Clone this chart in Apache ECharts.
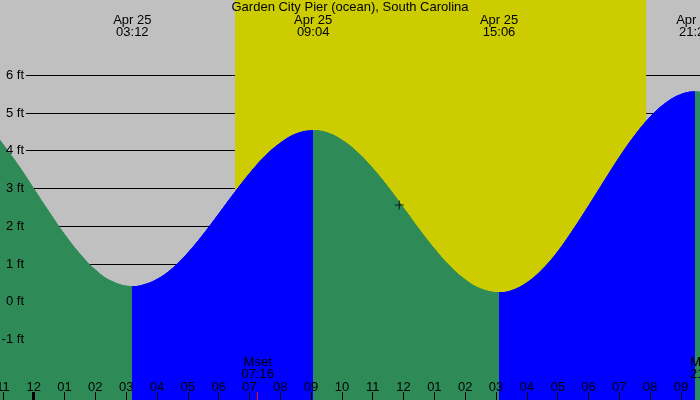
<!DOCTYPE html>
<html><head><meta charset="utf-8">
<script src="https://cdn.jsdelivr.net/npm/echarts@6/dist/echarts.min.js"></script>
<style>html,body{margin:0;padding:0;background:#c0c0c0}#c{width:700px;height:400px}</style>
</head><body><div id="c"></div><script>
// ---- data ----
const chartTitle = 'Garden City Pier (ocean), South Carolina';
const tideTimes   = [-1.1, -0.5, 0, 0.5, 1, 1.5, 2, 2.5, 3.2, 3.5, 4, 4.5, 5, 5.5, 6, 6.5, 7, 7.5, 8, 8.5, 9.067,
                     9.5, 10, 10.5, 11, 11.5, 12, 12.5, 13, 13.5, 14, 14.5, 15.1,
                     15.5, 16, 16.5, 17, 17.5, 18, 18.5, 19, 19.5, 20, 20.5, 21, 21.467, 21.62];
const tideHeights = [4.28, 3.61, 2.99, 2.37, 1.78, 1.26, 0.84, 0.55, 0.40, 0.43, 0.59, 0.88, 1.29, 1.78, 2.32, 2.87, 3.39, 3.85, 4.20, 4.44, 4.53,
                     4.48, 4.28, 3.96, 3.53, 3.03, 2.48, 1.92, 1.40, 0.94, 0.58, 0.34, 0.24,
                     0.29, 0.50, 0.85, 1.32, 1.90, 2.53, 3.18, 3.82, 4.40, 4.89, 5.26, 5.49, 5.56, 5.55];
const extremeTimes  = [3.2, 9.067, 15.1, 21.467];
const extremeTypes  = ['low', 'high', 'low', 'high'];
const extremeDate   = 'Apr 25';
const extremeLabels = ['03:12', '09:04', '15:06', '21:28'];
const hourTicks  = [-1, 0, 1, 2, 3, 4, 5, 6, 7, 8, 9, 10, 11, 12, 13, 14, 15, 16, 17, 18, 19, 20, 21];
const hourLabels = ['11', '12', '01', '02', '03', '04', '05', '06', '07', '08', '09', '10', '11', '12', '01', '02', '03', '04', '05', '06', '07', '08', '09'];
const midnightTicks = [0];
const levels = [-1, 0, 1, 2, 3, 4, 5, 6];
const sunrise = 6.53, sunset = 19.87;
const moonTimes  = [7.267, 21.82];
const moonNames  = ['Mset', 'Mrise'];
const moonLabels = ['07:16', '21:49'];
const markerTimes = [11.86];
const markerHeights = [2.56];

// ---- layout / style ----
const xMin = -1.0935, xMax = 21.619, yMin = -2.603, yMax = 7.993;
const GREEN = '#2e8b57', BLUE = '#0000ff', YELLOW = '#cccc00', GRAY = '#c0c0c0';
const FONT = '"Liberation Sans", Arial, sans-serif';
const FS = 13;

const pieces = [];
for (let i = 0; i <= extremeTimes.length; i++) {
  const p = {};
  if (i > 0) p.gte = extremeTimes[i - 1];
  if (i < extremeTimes.length) p.lt = extremeTimes[i];
  let rising;
  if (i < extremeTimes.length) rising = extremeTypes[i] === 'high';
  else rising = extremeTypes[i - 1] === 'low';
  p.color = rising ? BLUE : GREEN;
  pieces.push(p);
}

const chart = echarts.init(document.getElementById('c'), null, {renderer: 'canvas'});
const hid = () => ({axisLine: {show: false, onZero: false}, splitLine: {show: false}});
chart.setOption({
  animation: false,
  backgroundColor: GRAY,
  title: {text: chartTitle, left: 'center', top: 1, padding: 0, z: 10,
    textStyle: {fontSize: FS, fontWeight: 'normal', color: '#000', fontFamily: FONT}},
  grid: [
    {left: 0, right: 0, top: 0, bottom: 0, containLabel: false, outerBoundsMode: 'none'},
    {left: 26, right: 0, top: 0, bottom: 0, containLabel: false, outerBoundsMode: 'none'}
  ],
  xAxis: [
    Object.assign({gridIndex: 0, type: 'value', min: xMin, max: xMax, position: 'bottom', z: 10,
      axisTick: {show: true, inside: true, length: 8, customValues: hourTicks, lineStyle: {color: '#000', width: 1}},
      axisLabel: {show: true, inside: true, margin: 7, customValues: hourTicks,
        formatter: v => hourLabels[hourTicks.indexOf(v)], color: '#000', fontSize: FS, fontFamily: FONT, lineHeight: 12}
    }, hid()),
    Object.assign({gridIndex: 0, type: 'value', min: xMin, max: xMax, position: 'bottom', z: 11,
      axisTick: {show: true, inside: true, length: 8, customValues: midnightTicks, lineStyle: {color: '#000', width: 3}},
      axisLabel: {show: false}
    }, hid()),
    Object.assign({gridIndex: 0, type: 'value', min: xMin, max: xMax, position: 'bottom', z: 11,
      axisTick: {show: true, inside: true, length: 8, customValues: moonTimes, lineStyle: {color: '#ff0000', width: 1}},
      axisLabel: {show: false}
    }, hid()),
    {gridIndex: 1, type: 'value', min: 0, max: 1, show: false}
  ],
  yAxis: [
    {gridIndex: 0, type: 'value', min: yMin, max: yMax, z: 10,
      axisLine: {show: false, onZero: false}, axisTick: {show: false}, splitLine: {show: false},
      axisLabel: {show: true, inside: true, align: 'right', margin: 24, customValues: levels,
        formatter: v => v + ' ft', color: '#000', fontSize: FS, fontFamily: FONT}},
    {gridIndex: 1, type: 'value', min: yMin, max: yMax, z: 0,
      axisLine: {show: false, onZero: false}, axisLabel: {show: false},
      axisTick: {show: false, customValues: levels},
      splitLine: {show: true, lineStyle: {color: '#000', width: 1}}}
  ],
  visualMap: {type: 'piecewise', show: false, dimension: 0, seriesIndex: 1, pieces: pieces},
  series: [
    {type: 'line', xAxisIndex: 0, yAxisIndex: 0, z: -1, silent: true, showSymbol: false,
      data: [[xMin, yMin]], lineStyle: {opacity: 0},
      markArea: {silent: true, itemStyle: {color: YELLOW}, data: [[{xAxis: sunrise}, {xAxis: sunset}]]}},
    {type: 'line', xAxisIndex: 0, yAxisIndex: 0, z: 2, silent: true, showSymbol: false,
      smooth: 0.4, data: tideTimes.map((t, i) => [t, tideHeights[i]]),
      lineStyle: {width: 1}, areaStyle: {origin: 'start', opacity: 1}},
    {type: 'scatter', xAxisIndex: 0, yAxisIndex: 0, z: 5, silent: true,
      symbol: 'path://M0,4h9v1h-9zM4,0h1v9h-1z', symbolSize: 9, itemStyle: {color: '#000'},
      data: markerTimes.map((t, i) => [t, markerHeights[i]])}
  ]
});

const gx = t => chart.convertToPixel({xAxisIndex: 0}, t);
const graphics = [];
extremeTimes.forEach((t, i) => {
  graphics.push({type: 'text', x: gx(t), y: 14.5, z: 10, silent: true,
    style: {text: extremeDate + '\n' + extremeLabels[i], align: 'center', verticalAlign: 'top',
      fontSize: FS, fontFamily: FONT, lineHeight: 12, fill: '#000'}});
});
moonTimes.forEach((t, i) => {
  graphics.push({type: 'text', x: gx(t), y: 356, z: 10, silent: true,
    style: {text: moonNames[i] + '\n' + moonLabels[i], align: 'center', verticalAlign: 'top',
      fontSize: FS, fontFamily: FONT, lineHeight: 12, fill: '#000'}});
});
chart.setOption({graphic: graphics});
</script></body></html>
